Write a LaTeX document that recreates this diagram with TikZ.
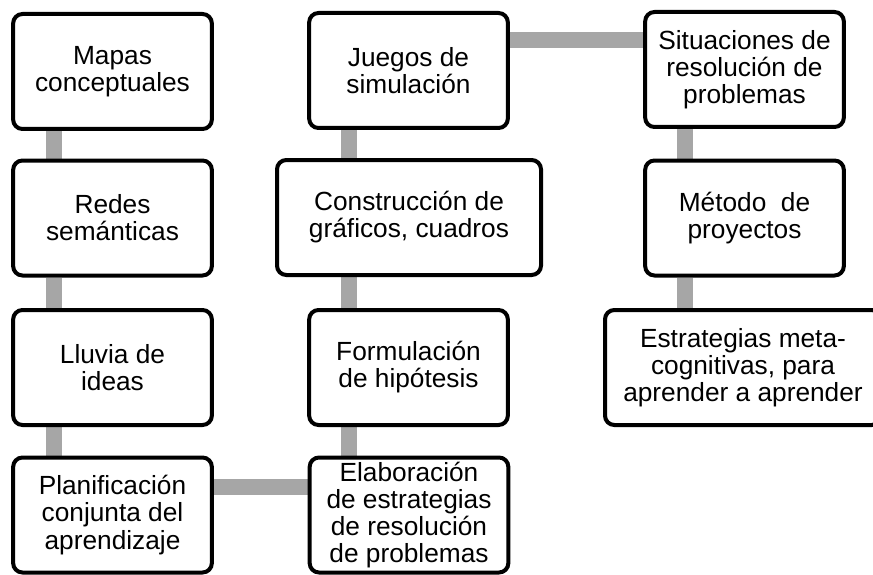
\documentclass[tikz,border=0pt]{standalone}
\usepackage{fontspec}
\setmainfont{Liberation Sans}
\usetikzlibrary{backgrounds}
\definecolor{linkgray}{RGB}{166,166,166}
\begin{document}
\begin{tikzpicture}[x=0.75pt,y=-0.75pt,
  box/.style={draw=black, line width=3pt, rounded corners=7pt, fill=white,
    align=center, inner sep=0pt, minimum height=86.25pt,
    font=\fontsize{19.7}{20.3}\selectfont},
  narrowbox/.style={box, minimum width=149pt},
  conn/.style={draw=linkgray, line width=12pt}]
\clip (0,0) rectangle (873,574);
\useasboundingbox (0,0) rectangle (873,574);
% column 1
\node[narrowbox] (mapas) at (112.5,71.5) {Mapas\\conceptuales};
\node[narrowbox] (redes) at (112.5,218) {Redes\\semánticas};
\node[narrowbox] (lluvia) at (112.5,367.5) {Lluvia de\\ideas};
\node[narrowbox] (planif) at (112.5,515) {Planificación\\conjunta del\\aprendizaje};
% column 2
\node[narrowbox] (juegos) at (408.5,70.5) {Juegos de\\simulación};
\node[box, minimum width=198pt] (constr) at (409,217.5) {Construcción de\\gráficos, cuadros};
\node[narrowbox] (formul) at (408.5,367.5) {Formulación\\de hipótesis};
\node[narrowbox] (elab) at (409,515) {Elaboración\\de estrategias\\de resolución\\de problemas};
% column 3
\node[narrowbox] (situ) at (744.5,69.5) {Situaciones de\\resolución de\\problemas};
\node[narrowbox] (metodo) at (744.5,218) {Método\ \ de\\proyectos};
\node[box, minimum width=207pt] (estrat) at (743,367.5) {Estrategias meta-\\cognitivas, para\\aprender a aprender};
% connector guides
\coordinate (c1) at (54,0);
\coordinate (c2) at (349,0);
\coordinate (c3) at (685,0);
\coordinate (toprow) at (0,40);
\coordinate (botrow) at (0,486.5);
\begin{scope}[on background layer]
\draw[conn] (mapas.south -| c1) -- (redes.north -| c1);
\draw[conn] (redes.south -| c1) -- (lluvia.north -| c1);
\draw[conn] (lluvia.south -| c1) -- (planif.north -| c1);
\draw[conn] (juegos.south -| c2) -- (constr.north -| c2);
\draw[conn] (constr.south -| c2) -- (formul.north -| c2);
\draw[conn] (formul.south -| c2) -- (elab.north -| c2);
\draw[conn] (situ.south -| c3) -- (metodo.north -| c3);
\draw[conn] (metodo.south -| c3) -- (estrat.north -| c3);
\draw[conn] (juegos.east |- toprow) -- (situ.west |- toprow);
\draw[conn] (planif.east |- botrow) -- (elab.west |- botrow);
\end{scope}
\end{tikzpicture}
\end{document}
